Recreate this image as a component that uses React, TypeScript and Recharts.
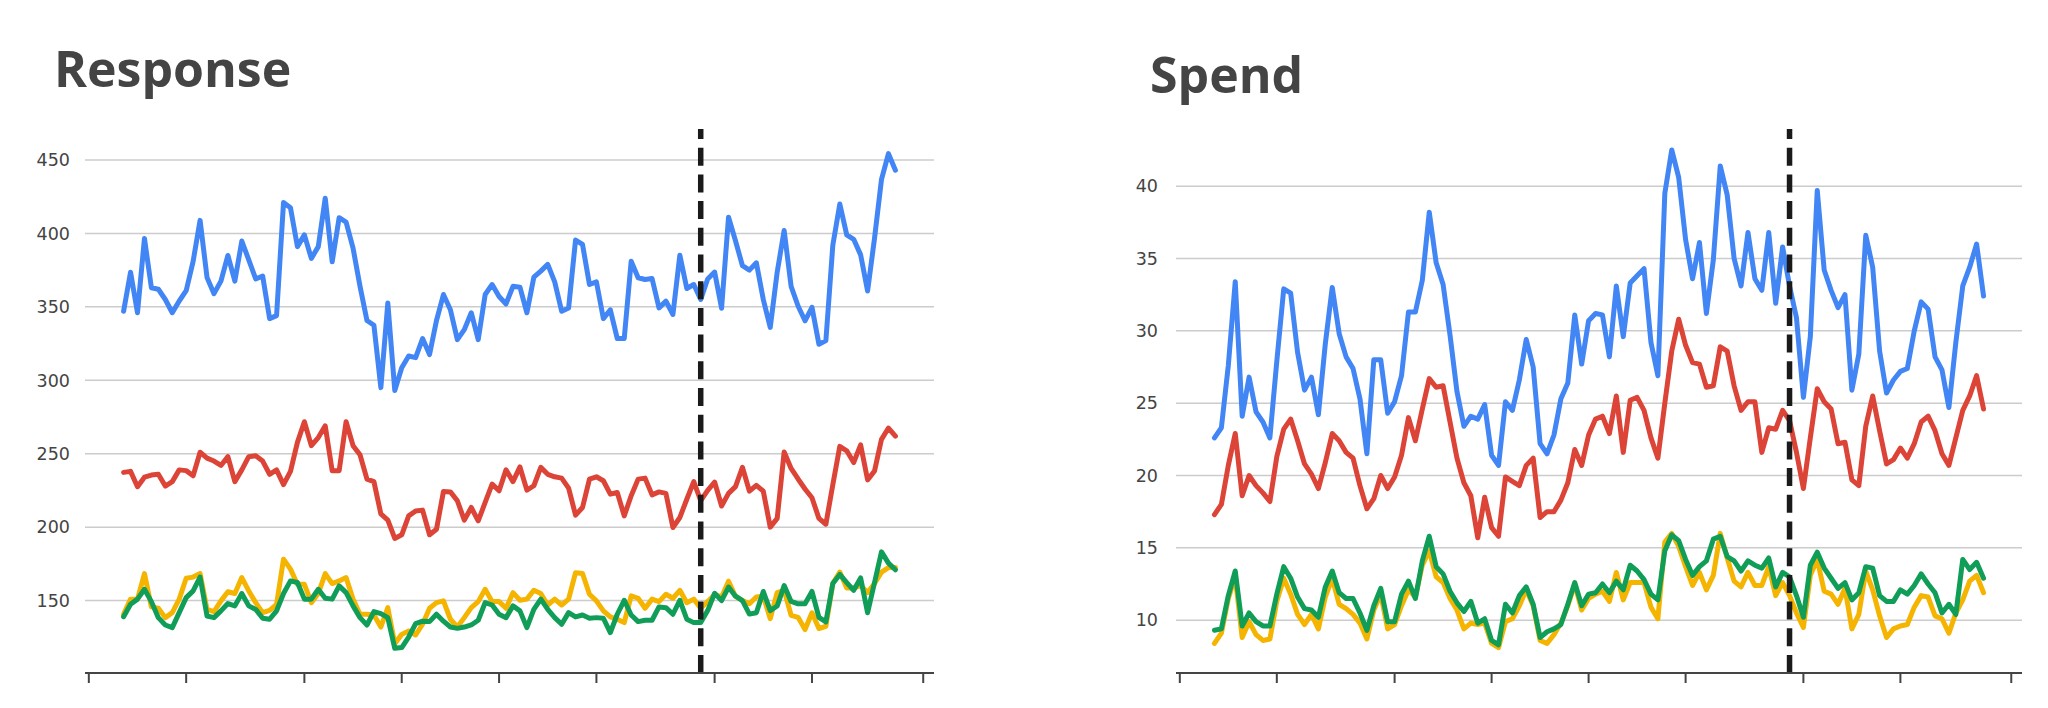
import React from 'react';
import { LineChart, Line, XAxis, YAxis, CartesianGrid, ReferenceLine } from 'recharts';

// ---- Data (weekly index 0..111) ----
const responseBlue = [347, 373.6, 346, 396.6, 363, 362, 355, 346, 354, 361, 381, 408.9, 370, 359, 367.5, 385, 367.5, 394.8, 382, 369, 371, 342, 344, 421, 417.5, 391, 399, 383, 391, 424, 380.7, 410.7, 407.7, 390, 364, 340.7, 337.5, 295, 352.7, 293, 308.6, 316.5, 315.4, 328.4, 317.5, 340.7, 358.4, 348, 327.7, 334.5, 346, 327.7, 358.4, 365.2, 357, 352, 364, 363.4, 346, 370.2, 374.3, 378.9, 367, 347, 349.3, 395.5, 392.5, 365.2, 367, 342, 348, 328.4, 328.4, 381, 369.8, 368.6, 369.3, 349.3, 353.9, 344.8, 385.2, 362.5, 365.2, 355, 369, 373.7, 349, 411, 395, 378, 375, 380, 355, 336, 373.7, 402, 364, 350.6, 340.5, 349.7, 324.5, 327, 392, 420, 399, 396, 385.4, 360.8, 396.8, 436.8, 454.3, 443];
const responseRed = [237.3, 238, 227.5, 234, 235.5, 236, 228, 231, 239, 238.5, 235, 251, 247, 245, 242, 248, 231, 239, 248, 248.6, 245, 236, 239, 229, 238, 257.7, 271.8, 255.5, 261, 269, 238.4, 238.4, 271.8, 255.5, 249.3, 232.7, 231, 209, 204.8, 192.3, 194.8, 207.7, 211, 211.6, 194.8, 198.6, 224.3, 224, 218, 204.8, 213.4, 204.3, 216.8, 229.3, 224.8, 239, 231, 241, 225.2, 228.2, 240.7, 236, 234.3, 233.4, 226.6, 208.2, 213.4, 232.7, 234.3, 231.6, 222.5, 223.6, 207.7, 221.4, 232.7, 233.4, 222, 224, 223, 199.8, 206.6, 219, 231, 218, 225, 230.7, 214.4, 223, 227.6, 240.8, 224.5, 228.5, 224.5, 200, 206, 251.2, 240, 232.8, 226, 220, 206, 202, 229, 255, 252, 244, 256, 232.2, 238.3, 259.8, 267.5, 262];
const responseYellow = [140.7, 151, 151, 168.4, 145.7, 144.8, 138.4, 141.8, 151, 165.2, 166, 168.4, 144, 142.5, 149.8, 156, 154.8, 165.7, 156.6, 148.6, 141.8, 143.4, 147.5, 178.2, 171.4, 161.1, 161.1, 148.6, 154.8, 168.4, 161.6, 163.4, 165.7, 151, 140.7, 140.7, 140.2, 132, 145.2, 120.7, 127, 129.3, 126.6, 133.9, 144.8, 148.6, 149.8, 137.3, 132, 138.4, 145.2, 149.3, 157.7, 149.3, 149.3, 144.8, 155.4, 150.2, 151, 157, 154.8, 147, 151, 147, 151, 169, 168.4, 154.3, 149.8, 143, 138.9, 137.3, 135, 153.2, 151.6, 144.8, 151, 149.3, 154.3, 151.6, 157, 148.6, 151, 144.8, 149.4, 154, 152.5, 163.2, 153, 150, 147.8, 152.5, 153, 137.7, 155.5, 157, 140, 138.6, 130.3, 141.7, 131, 132.5, 161.7, 169.4, 158.6, 158.6, 160.2, 155.5, 161.7, 169.4, 172.5, 172.5];
const responseGreen = [139, 147.5, 151, 157.7, 149.3, 138.4, 133.4, 131.6, 141.8, 152, 156.6, 166, 139.5, 138.4, 143, 148, 146.4, 154.8, 146.4, 144, 138, 137.3, 143, 154.8, 163.4, 162.3, 151, 151, 157.7, 151.6, 151, 160, 155.4, 146.4, 138.4, 133.4, 142.5, 141.1, 138.4, 117.5, 118, 125.2, 134.3, 136, 135.7, 140.7, 136, 132, 131.1, 132, 133.4, 136.6, 148.6, 147, 140.7, 138.4, 146.4, 143, 131.6, 144, 151, 144, 138.4, 133.9, 141.8, 138.9, 140.2, 138, 138.4, 138, 128.2, 140.7, 150.2, 140.2, 135.7, 136.6, 136.6, 145.7, 145.2, 140.7, 150.2, 137.3, 135, 135, 143.2, 155, 150, 159.2, 153, 150, 140.8, 141.7, 156.2, 143.2, 146.3, 160.2, 149.4, 147.8, 147.8, 156.2, 138.6, 135.5, 161.7, 167.8, 162.3, 157, 165.4, 141.7, 162.3, 183.2, 175.5, 171];

const spendBlue = [22.6, 23.3, 27.6, 33.4, 24.1, 26.8, 24.4, 23.7, 22.6, 27.9, 32.9, 32.6, 28.5, 25.9, 26.8, 24.2, 29.1, 33, 29.8, 28.2, 27.4, 25.3, 21.5, 28, 28, 24.3, 25.1, 26.9, 31.3, 31.3, 33.5, 38.2, 34.7, 33.2, 29.7, 25.8, 23.4, 24.1, 23.9, 24.9, 21.4, 20.7, 25.1, 24.5, 26.6, 29.4, 27.5, 22.2, 21.5, 22.8, 25.3, 26.4, 31.1, 27.7, 30.7, 31.2, 31.1, 28.2, 33.1, 29.6, 33.3, 33.8, 34.3, 29.2, 26.9, 39.5, 42.5, 40.6, 36.3, 33.6, 36.1, 31.2, 34.9, 41.4, 39.4, 35, 33.1, 36.8, 33.6, 32.8, 36.8, 31.9, 35.8, 33.1, 30.9, 25.4, 29.6, 39.7, 34.2, 32.8, 31.6, 32.5, 25.9, 28.4, 36.6, 34.4, 28.6, 25.7, 26.6, 27.2, 27.4, 30, 32, 31.5, 28.2, 27.3, 24.7, 29.2, 33.1, 34.4, 36, 32.4];
const spendRed = [17.3, 18, 20.7, 22.9, 18.6, 20, 19.3, 18.8, 18.2, 21.3, 23.2, 23.9, 22.4, 20.8, 20.1, 19.1, 20.9, 22.9, 22.4, 21.6, 21.2, 19.3, 17.7, 18.4, 20, 19.1, 19.9, 21.4, 24, 22.4, 24.6, 26.7, 26.1, 26.2, 23.7, 21.2, 19.5, 18.6, 15.7, 18.5, 16.4, 15.8, 19.9, 19.6, 19.3, 20.7, 21.2, 17.1, 17.5, 17.5, 18.3, 19.5, 21.8, 20.7, 22.8, 23.9, 24.1, 22.9, 25.5, 21.6, 25.2, 25.4, 24.5, 22.6, 21.2, 25, 28.6, 30.8, 29, 27.8, 27.7, 26.1, 26.2, 28.9, 28.6, 26.2, 24.5, 25.1, 25.1, 21.6, 23.3, 23.2, 24.5, 23.8, 21.6, 19.1, 22.6, 26, 25.1, 24.6, 22.2, 22.3, 19.7, 19.3, 23.4, 25.5, 23.1, 20.8, 21.1, 21.9, 21.2, 22.2, 23.7, 24.1, 23.1, 21.5, 20.7, 22.6, 24.5, 25.5, 26.9, 24.6];
const spendYellow = [8.4, 9.1, 11.5, 13, 8.8, 9.9, 9, 8.6, 8.7, 11.3, 12.9, 11.8, 10.4, 9.7, 10.4, 9.4, 11.6, 12.9, 11.1, 10.8, 10.4, 9.8, 8.7, 10.7, 11.8, 9.4, 9.7, 11, 12.1, 11.6, 13.8, 14.8, 13, 12.6, 11.5, 10.7, 9.4, 9.8, 9.7, 9.8, 8.4, 8.1, 9.9, 10.1, 11, 12.1, 11, 8.6, 8.4, 9, 9.8, 11, 12.5, 10.7, 11.5, 11.8, 12, 11.3, 13.3, 11.4, 12.6, 12.6, 12.6, 10.9, 10.1, 15.4, 16, 15.1, 13.7, 12.4, 13.3, 12.1, 13.1, 16, 14.3, 12.7, 12.3, 13.3, 12.4, 12.4, 13.7, 11.7, 12.6, 11.7, 10.5, 9.5, 13.1, 14.2, 12, 11.8, 11.1, 12.2, 9.4, 10.4, 13.4, 12.1, 10.3, 8.8, 9.4, 9.6, 9.7, 10.9, 11.7, 11.6, 10.3, 10.1, 9.1, 10.5, 11.4, 12.7, 13.1, 11.9];
const spendGreen = [9.3, 9.4, 11.7, 13.4, 9.6, 10.5, 9.9, 9.6, 9.6, 11.8, 13.7, 12.9, 11.6, 10.8, 10.7, 10.2, 12.3, 13.4, 11.9, 11.5, 11.5, 10.5, 9.3, 11, 12.2, 9.9, 9.9, 11.8, 12.7, 11.5, 14.1, 15.8, 13.7, 13.2, 12, 11.2, 10.6, 11.3, 9.8, 10.1, 8.6, 8.3, 11.1, 10.5, 11.7, 12.3, 11.1, 8.8, 9.2, 9.4, 9.7, 11.1, 12.6, 11, 11.8, 11.9, 12.5, 11.9, 12.7, 12.1, 13.8, 13.4, 12.8, 11.8, 11.4, 14.8, 15.9, 15.5, 14.2, 13.1, 13.7, 14.1, 15.6, 15.8, 14.4, 14.1, 13.4, 14.1, 13.8, 13.6, 14.3, 12.3, 13.3, 13, 11.7, 10.2, 13.8, 14.7, 13.6, 12.9, 12.2, 12.6, 11.4, 11.9, 13.7, 13.6, 11.7, 11.3, 11.3, 12.1, 11.8, 12.4, 13.2, 12.5, 11.9, 10.5, 11.1, 10.4, 14.2, 13.5, 14, 12.9];

const xTicks = [-5, 9, 26, 40, 54, 68, 85, 99, 115];
const splitWeek = 83;
const responseTicks = [150, 200, 250, 300, 350, 400, 450];
const spendTicks = [10, 15, 20, 25, 30, 35, 40];

const COLORS = { blue: '#4285F4', red: '#DB4437', yellow: '#F4B400', green: '#0F9D58' };

function buildRows(b: number[], r: number[], y: number[], g: number[]) {
  return b.map((v, i) => ({ i, blue: v, red: r[i], yellow: y[i], green: g[i] }));
}

const responseRows = buildRows(responseBlue, responseRed, responseYellow, responseGreen);
const spendRows = buildRows(spendBlue, spendRed, spendYellow, spendGreen);

type PanelProps = {
  rows: any[];
  left: number;
  width: number;
  margin: { top: number; right: number; bottom: number; left: number };
  yDomain: [number, number];
  yTicks: number[];
  labelGap: number;
};

function Panel({ rows, left, width, margin, yDomain, yTicks, labelGap }: PanelProps) {
  const lineProps = { type: 'linear' as const, dot: false, activeDot: false, strokeWidth: 5, isAnimationActive: false, strokeLinejoin: 'round' as const, strokeLinecap: 'round' as const };
  return (
    <div style={{ position: 'absolute', left, top: 0 }}>
      <LineChart width={width} height={708} data={rows} margin={margin}>
        <CartesianGrid vertical={false} horizontalValues={yTicks} stroke="#cccccc" strokeWidth={1.5} />
        <XAxis
          dataKey="i"
          type="number"
          domain={[-5.55, 116.55]}
          ticks={xTicks}
          tickFormatter={() => ''}
          height={30}
          tickSize={10}
          axisLine={{ stroke: '#444444', strokeWidth: 2 }}
          tickLine={{ stroke: '#444444', strokeWidth: 2 }}
          interval={0}
          allowDataOverflow
        />
        <YAxis
          type="number"
          domain={yDomain}
          ticks={yTicks}
          width={60}
          axisLine={false}
          tickLine={false}
          tickSize={6}
          tickMargin={labelGap - 6}
          interval={0}
          allowDataOverflow
          tick={{ fill: '#444444', fontSize: 17.5, fontFamily: 'DejaVu Sans' }}
        />
        <Line {...lineProps} dataKey="blue" stroke={COLORS.blue} />
        <Line {...lineProps} dataKey="red" stroke={COLORS.red} />
        <Line {...lineProps} dataKey="yellow" stroke={COLORS.yellow} />
        <Line {...lineProps} dataKey="green" stroke={COLORS.green} />
        <ReferenceLine x={splitWeek} stroke="#1a1a1a" strokeWidth={5.5} strokeDasharray="18 8.7" />
      </LineChart>
    </div>
  );
}

export default function App() {
  return (
    <div style={{ position: 'absolute', left: 0, top: 0, width: 2048, height: 708, background: '#ffffff', overflow: 'hidden' }}>
      <Panel
        rows={responseRows}
        left={0}
        width={1000}
        margin={{ top: 129, right: 66, bottom: 5, left: 25 }}
        yDomain={[100.7, 471.1]}
        yTicks={responseTicks}
        labelGap={15}
      />
      <Panel
        rows={spendRows}
        left={1024}
        width={1024}
        margin={{ top: 129, right: 26, bottom: 5, left: 92 }}
        yDomain={[6.35, 43.95]}
        yTicks={spendTicks}
        labelGap={18}
      />
      <svg width={2048} height={130} style={{ position: 'absolute', left: 0, top: 0, pointerEvents: 'none' }}>
        <text x={54} y={87} fontFamily="Open Sans" fontWeight={700} fontSize={50} fill="#444444">Response</text>
        <text x={1150} y={93} fontFamily="Open Sans" fontWeight={700} fontSize={50} fill="#444444">Spend</text>
      </svg>
    </div>
  );
}
